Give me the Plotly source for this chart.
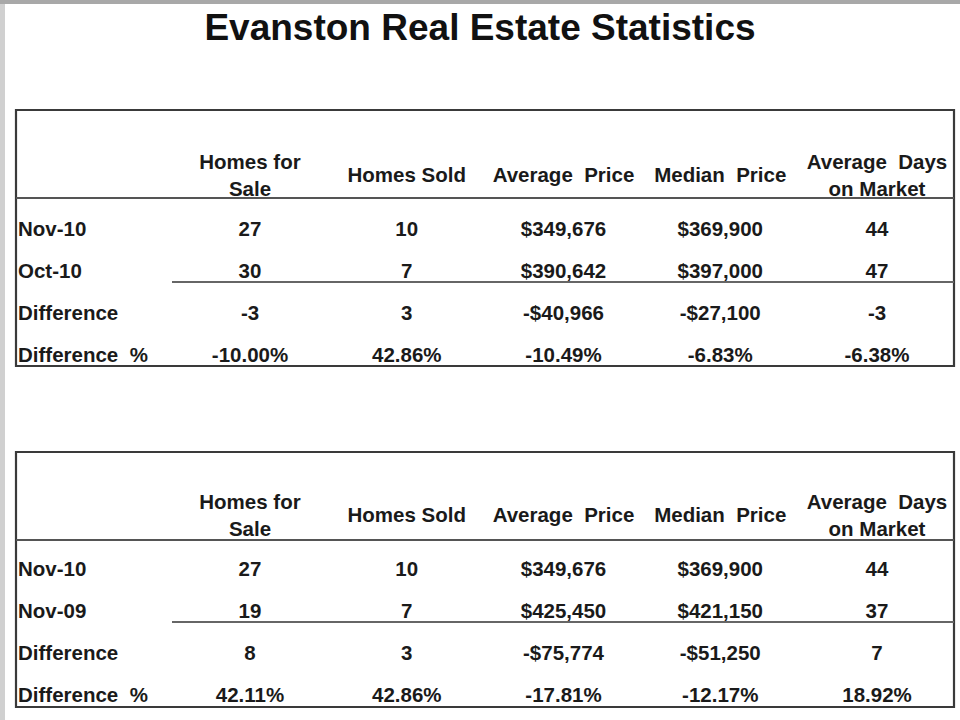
import plotly.graph_objects as go

# --- data ---
title = "Evanston Real Estate Statistics"
headers = ["Homes for<br>Sale", "Homes Sold", "Average  Price", "Median  Price", "Average  Days<br>on Market"]

rows_1 = ["Nov-10", "Oct-10", "Difference", "Difference  %"]
vals_1 = [
    ["27", "10", "$349,676", "$369,900", "44"],
    ["30", "7", "$390,642", "$397,000", "47"],
    ["-3", "3", "-$40,966", "-$27,100", "-3"],
    ["-10.00%", "42.86%", "-10.49%", "-6.83%", "-6.38%"],
]

rows_2 = ["Nov-10", "Nov-09", "Difference", "Difference  %"]
vals_2 = [
    ["27", "10", "$349,676", "$369,900", "44"],
    ["19", "7", "$425,450", "$421,150", "37"],
    ["8", "3", "-$75,774", "-$51,250", "7"],
    ["42.11%", "42.86%", "-17.81%", "-12.17%", "18.92%"],
]

# --- layout helpers (pixel -> paper) ---
W, H = 960, 720
def px(x):
    return x / W
def py(y):
    return 1 - y / H

FONT = "Liberation Sans, Arial, sans-serif"
TXT = "#1a1a1a"
LINE = "#3a3a3a"
SIZE = 20.5

fig = go.Figure()

def add_table(rows, vals, yaxis):
    # row labels
    fig.add_trace(go.Scatter(
        x=[-0.48] * len(rows), y=list(range(len(rows))), text=[f"<b>{r}</b>" for r in rows],
        mode="text", textposition="middle right", yaxis=yaxis,
        textfont=dict(family=FONT, size=SIZE, color=TXT), hoverinfo="skip", showlegend=False))
    # header
    fig.add_trace(go.Scatter(
        x=list(range(1, len(headers) + 1)), y=[-1.29] * len(headers),
        text=[f"<b>{h}</b>" for h in headers],
        mode="text", textposition="middle center", yaxis=yaxis,
        textfont=dict(family=FONT, size=SIZE, color=TXT), hoverinfo="skip", showlegend=False))
    # cells
    xs, ys, ts = [], [], []
    for r, row in enumerate(vals):
        for c, v in enumerate(row):
            xs.append(c + 1)
            ys.append(r)
            ts.append(f"<b>{v}</b>")
    fig.add_trace(go.Scatter(
        x=xs, y=ys, text=ts, mode="text", textposition="middle center", yaxis=yaxis,
        textfont=dict(family=FONT, size=SIZE, color=TXT), hoverinfo="skip", showlegend=False))

add_table(rows_1, vals_1, "y")
add_table(rows_2, vals_2, "y2")

shapes = []
# slide border edges
shapes.append(dict(type="rect", xref="paper", yref="paper", x0=0, x1=px(5), y0=0, y1=1,
                   fillcolor="#d0d0d0", line=dict(width=0), layer="below"))
shapes.append(dict(type="rect", xref="paper", yref="paper", x0=0, x1=1, y0=py(4), y1=1,
                   fillcolor="#a8a8a8", line=dict(width=0), layer="below"))

for top, head, under, bottom in [(110, 198, 282, 366), (452, 540, 622, 707)]:
    shapes.append(dict(type="rect", xref="paper", yref="paper", x0=px(16), x1=px(954),
                       y0=py(bottom), y1=py(top), line=dict(color=LINE, width=2.2)))
    shapes.append(dict(type="line", xref="paper", yref="paper", x0=px(16), x1=px(954),
                       y0=py(head), y1=py(head), line=dict(color="#555555", width=2)))
    shapes.append(dict(type="line", xref="paper", yref="paper", x0=px(172), x1=px(954),
                       y0=py(under), y1=py(under), line=dict(color="#666666", width=2)))

# axis ranges so column 1 sits at 250px, column 5 at 877px, row 0 at ~229px / ~569px
xs_per_px = 1 / 156.75
row_px = 41.8
r1, r2 = 231, 571
fig.update_layout(
    width=W, height=H,
    margin=dict(l=0, r=0, t=0, b=0),
    paper_bgcolor="white", plot_bgcolor="white",
    shapes=shapes,
    title=dict(text=f"<b>{title}</b>", x=0.5, xanchor="center", y=py(27), yanchor="middle",
               font=dict(family=FONT, size=37, color="#111111")),
    xaxis=dict(range=[1 - 250 * xs_per_px, 1 + 710 * xs_per_px], visible=False, fixedrange=True),
    yaxis=dict(range=[(H - r1) / row_px, -r1 / row_px], visible=False, fixedrange=True),
    yaxis2=dict(range=[(H - r2) / row_px, -r2 / row_px], visible=False, overlaying="y",
                fixedrange=True),
)

fig.write_html("out.html", config={"displayModeBar": False},
               post_script="document.body.style.margin='0';document.body.style.overflow='hidden';")
